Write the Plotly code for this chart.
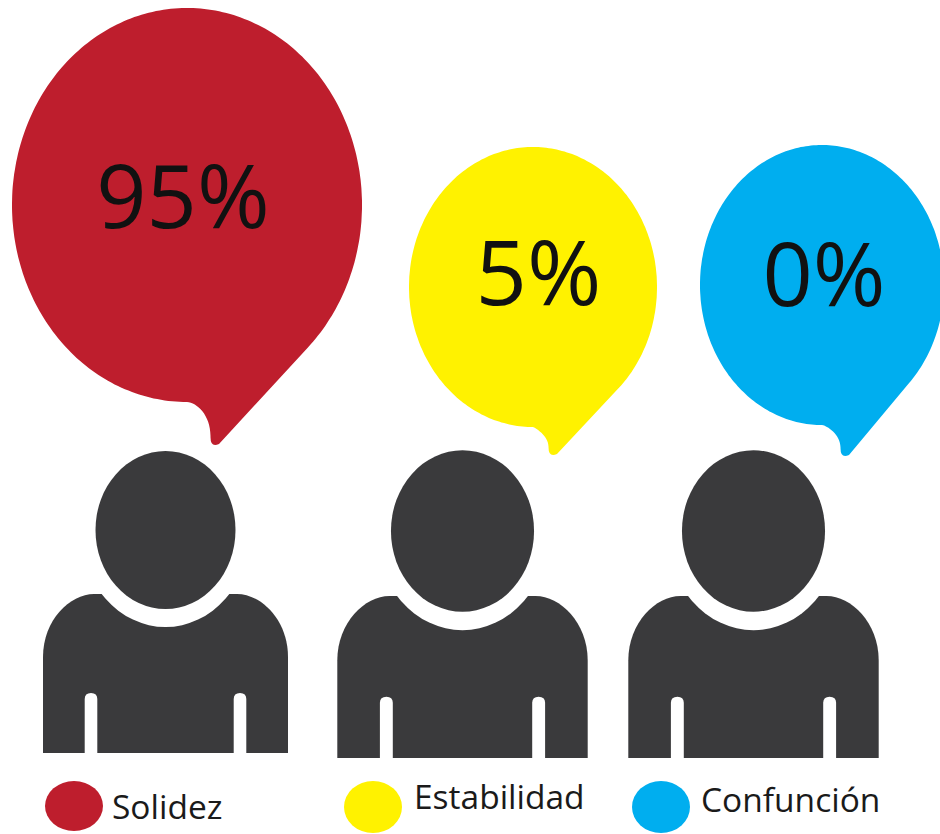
import numpy as np
import plotly.graph_objects as go

# Data
categories = ["Solidez", "Estabilidad", "Confunción"]
percentages = [95, 5, 0]
colors = ["#BE1E2D", "#FFF200", "#00AEEF"]

# Layout constants (pixel canvas)
W, H = 940, 834
DARK = "#3A3A3C"
BUBBLES = [  # cx, cy, rx, ry, tipx, tipy
    (187, 205, 175, 197, 215, 447),
    (533, 287, 124, 140, 553, 457),
    (822, 285, 122, 140, 845, 458),
]
PERSONS = [  # centre x, head cy, torso top, torso bottom, scale
    (165.5, 530, 594, 753, 1.0),
    (462.5, 531, 596, 758, 1.022),
    (753.5, 531, 596, 758, 1.022),
]
PCT_POS = [(183, 206, 88), (538.5, 282, 90), (824, 284, 88)]
LEG_DOT = [(74, 806, 29, 25), (373, 807, 29, 26), (661, 807, 29, 26)]
LEG_TXT = [(112, 811), (414, 801), (701, 804)]


def bubble_path(cx, cy, rx, ry, tx, ty):
    ux, uy = (tx - cx) / rx, (ty - cy) / ry
    join = np.arctan2(uy, ux) - np.arccos(1 / np.hypot(ux, uy))
    t = np.linspace(join, np.pi / 2 - 2 * np.pi, 260)
    pts = [f"{cx + rx*np.cos(a):.1f},{cy + ry*np.sin(a):.1f}" for a in t]
    sx, sy = cx + rx*np.cos(t[-1]), cy + ry*np.sin(t[-1])
    p = "M" + " L".join(pts)
    p += f" C{tx-18:.1f},{sy+0.5:.1f} {tx-4:.1f},{sy+(ty-sy)*0.3:.1f} {tx-4.5:.1f},{ty-10:.1f}"
    p += f" Q{tx-4.5:.1f},{ty+1:.1f} {tx+4:.1f},{ty-3:.1f} Z"
    return p


def torso_path(c, top, bot, s):
    hw = 122.5 * s
    return (f"M{c-hw:.1f},{bot} L{c-hw:.1f},{top+63*s:.1f} "
            f"C{c-hw:.1f},{top+26*s:.1f} {c-hw+27*s:.1f},{top} {c-hw+51*s:.1f},{top} "
            f"L{c+hw-51*s:.1f},{top} "
            f"C{c+hw-27*s:.1f},{top} {c+hw:.1f},{top+26*s:.1f} {c+hw:.1f},{top+63*s:.1f} "
            f"L{c+hw:.1f},{bot} Z")


def slit_path(x0, x1, top, bot):
    m = (x0 + x1) / 2
    return (f"M{x0:.1f},{bot+1} L{x0:.1f},{top+6} Q{x0:.1f},{top} {m:.1f},{top} "
            f"Q{x1:.1f},{top} {x1:.1f},{top+6} L{x1:.1f},{bot+1} Z")


def solid(**kw):
    return dict(xref="x", yref="y", line=dict(width=0), layer="below", **kw)


shapes = []
for b, col in zip(BUBBLES, colors):
    shapes.append(solid(type="path", path=bubble_path(*b), fillcolor=col))
for c, hy, top, bot, s in PERSONS:
    shapes.append(solid(type="path", path=torso_path(c, top, bot, s), fillcolor=DARK))
    shapes.append(solid(type="circle", x0=c-85*s, x1=c+85*s, y0=hy-97*s, y1=hy+97*s, fillcolor="#FFFFFF"))
    shapes.append(solid(type="circle", x0=c-70*s, x1=c+70*s, y0=hy-79*s, y1=hy+79*s, fillcolor=DARK))
    for side in (-1, 1):
        xm = c + side * 74.5 * s
        shapes.append(solid(type="path", path=slit_path(xm-6.3*s, xm+6.3*s, bot-60*s, bot), fillcolor="#FFFFFF"))
for (x, y, rx, ry), col in zip(LEG_DOT, colors):
    shapes.append(solid(type="circle", x0=x-rx, x1=x+rx, y0=y-ry, y1=y+ry, fillcolor=col))

fig = go.Figure()
for (x, y, size), v in zip(PCT_POS, percentages):
    fig.add_trace(go.Scatter(x=[x], y=[y], mode="text", text=[f"{v}%"], textposition="middle center",
                             textfont=dict(family="Open Sans", size=size, color="#111111", weight=500),
                             hoverinfo="skip", showlegend=False, cliponaxis=False))
for (x, y), name in zip(LEG_TXT, categories):
    fig.add_trace(go.Scatter(x=[x], y=[y], mode="text", text=[name], textposition="middle right",
                             textfont=dict(family="Open Sans", size=33.5, color="#1A1A1A"),
                             hoverinfo="skip", showlegend=False, cliponaxis=False))

fig.update_layout(
    width=W, height=H, margin=dict(l=0, r=0, t=0, b=0, pad=0),
    paper_bgcolor="#FFFFFF", plot_bgcolor="#FFFFFF", shapes=shapes,
    xaxis=dict(range=[0, W], visible=False, fixedrange=True),
    yaxis=dict(range=[H, 0], visible=False, fixedrange=True),
    showlegend=False,
)
fig.write_html("out.html", config=dict(displayModeBar=False),
               post_script="document.body.style.margin='0';")
